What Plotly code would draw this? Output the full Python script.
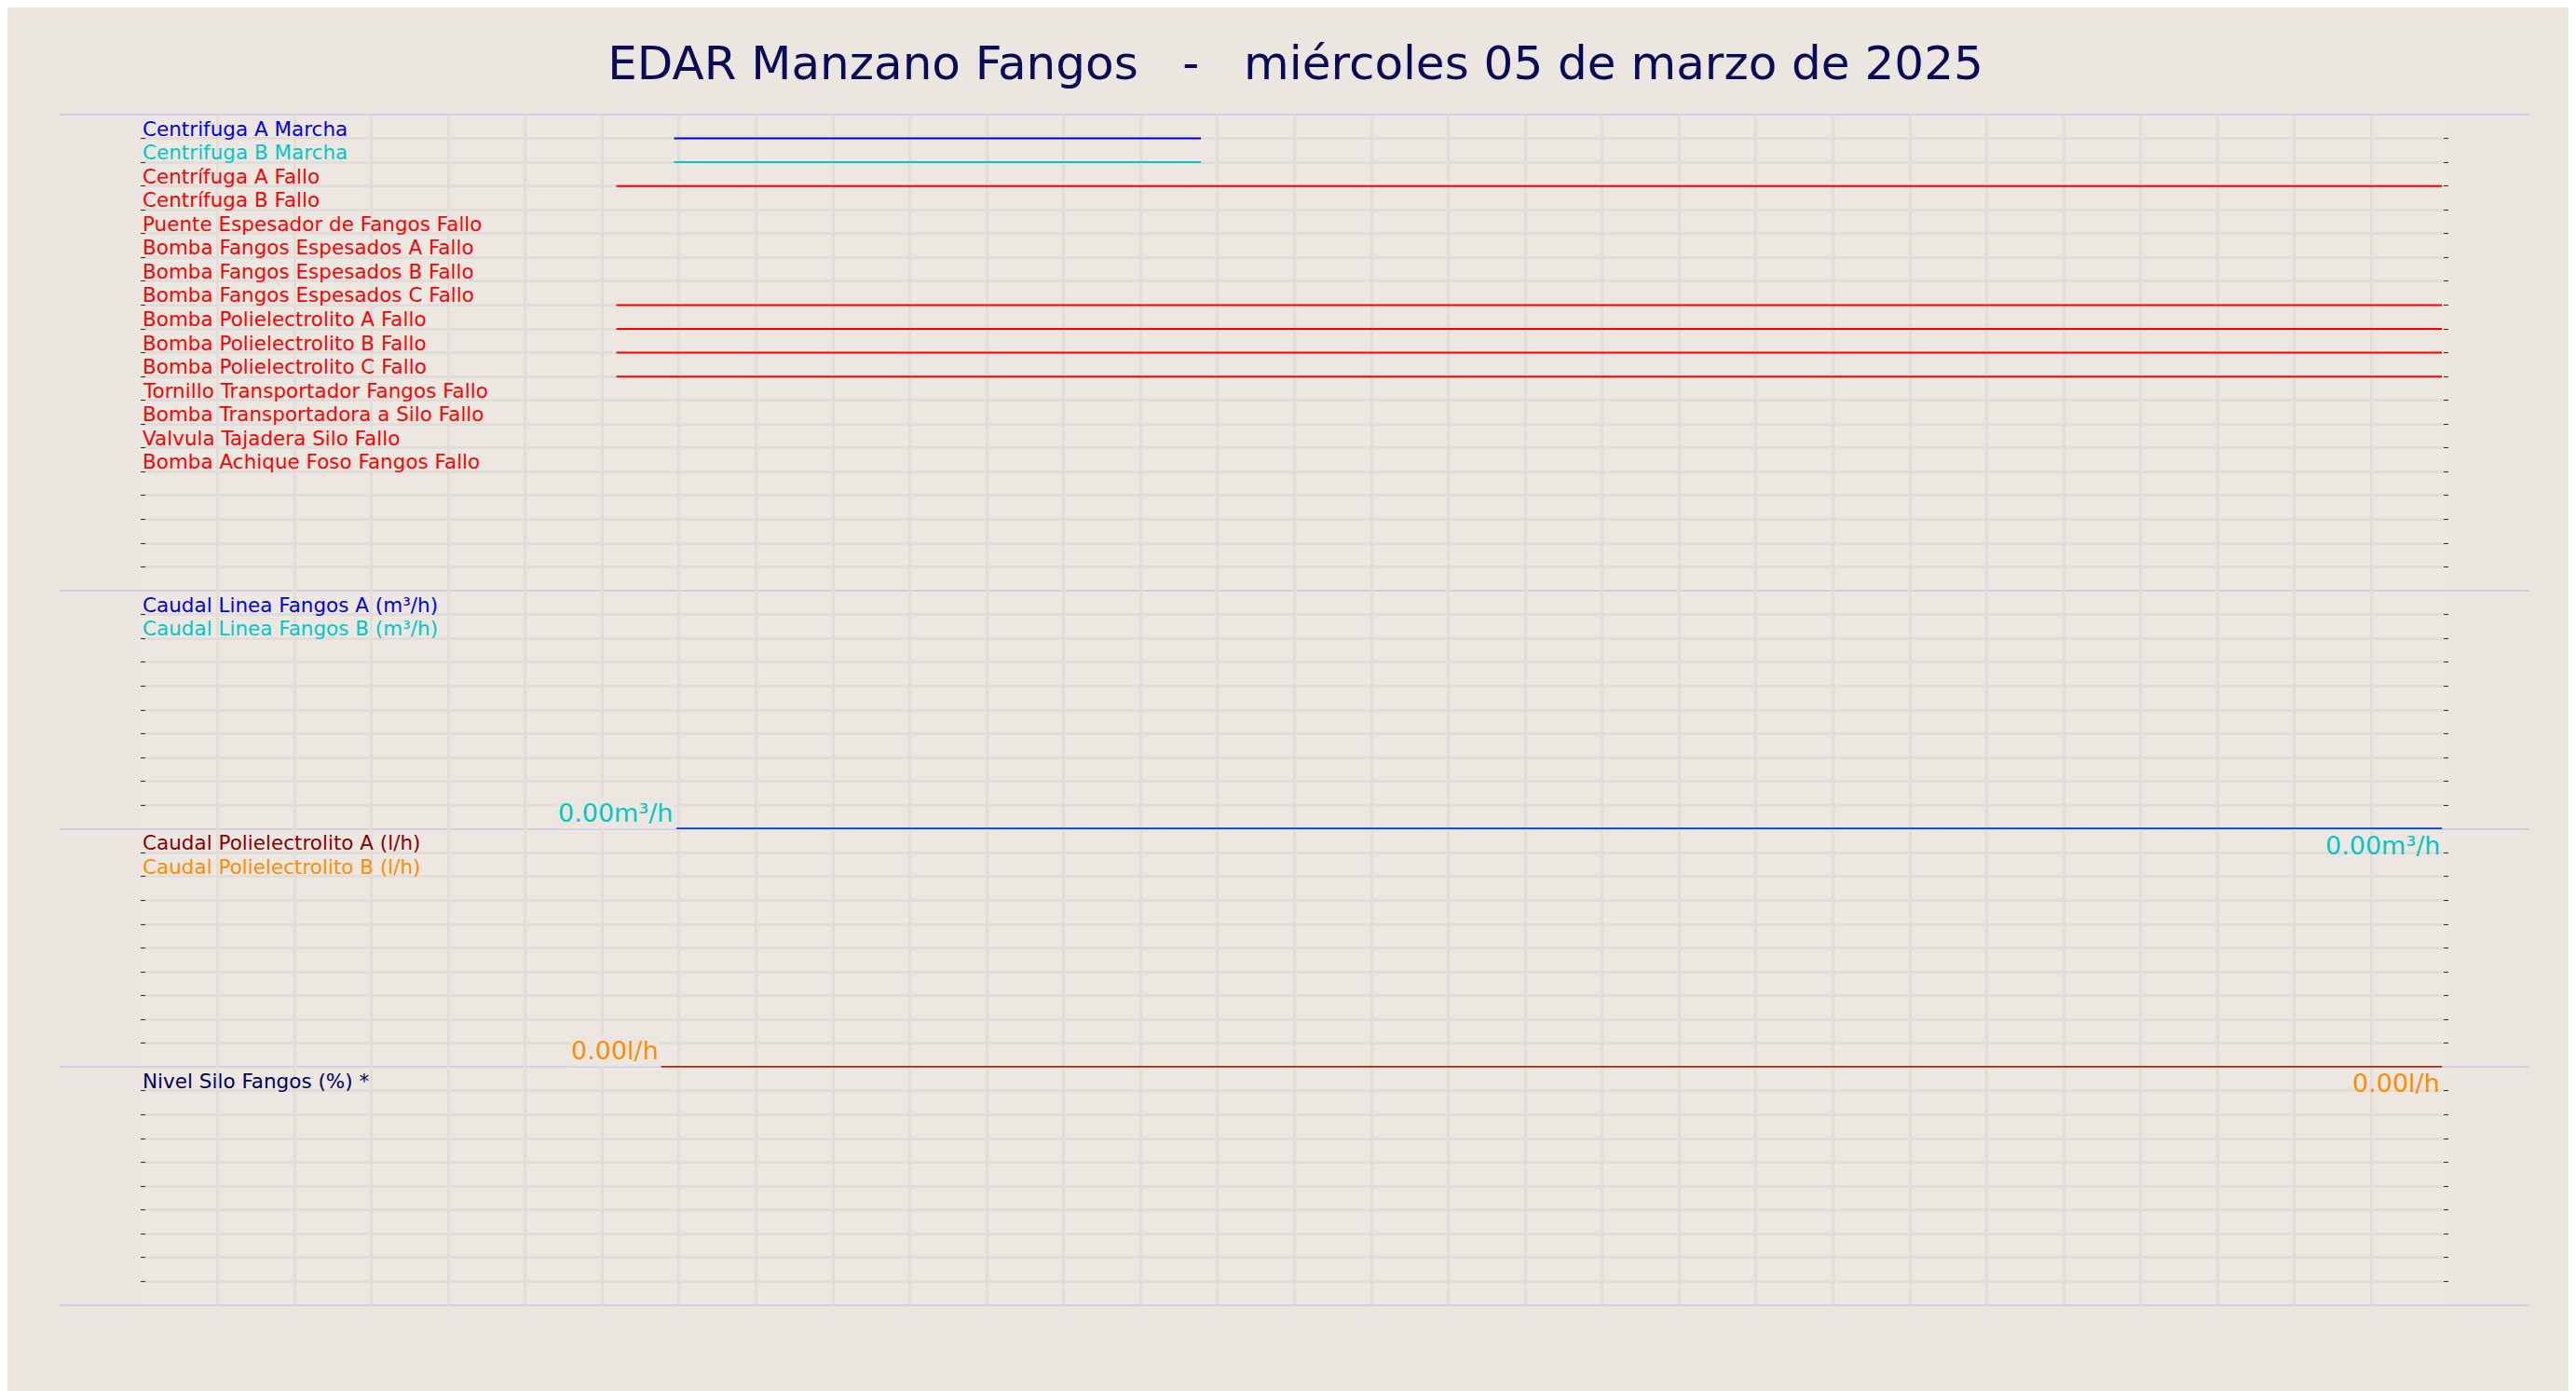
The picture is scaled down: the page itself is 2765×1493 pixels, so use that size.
import plotly.graph_objects as go
from plotly.subplots import make_subplots
import pandas as pd

W, H = 2765, 1493
BG = "#ebe6e0"

# panel 1: digital signals (name, colour, on-start, on-end)
senales = ["Centrifuga A Marcha", "Centrifuga B Marcha", "Centrífuga A Fallo", "Centrífuga B Fallo",
           "Puente Espesador de Fangos Fallo", "Bomba Fangos Espesados A Fallo",
           "Bomba Fangos Espesados B Fallo", "Bomba Fangos Espesados C Fallo",
           "Bomba Polielectrolito A Fallo", "Bomba Polielectrolito B Fallo",
           "Bomba Polielectrolito C Fallo", "Tornillo Transportador Fangos Fallo",
           "Bomba Transportadora a Silo Fallo", "Valvula Tajadera Silo Fallo",
           "Bomba Achique Foso Fangos Fallo"]
colores = ["#0000ee", "#00c8c8"] + ["#ff0000"] * 13
inicio = ["2025-03-05 06:56", "2025-03-05 06:56", "2025-03-05 06:11", None, None, None, None,
          "2025-03-05 06:11", "2025-03-05 06:11", "2025-03-05 06:11", "2025-03-05 06:11",
          None, None, None, None]
fin = ["2025-03-05 13:47", "2025-03-05 13:47", "2025-03-06 05:55", None, None, None, None,
       "2025-03-06 05:55", "2025-03-06 05:55", "2025-03-06 05:55", "2025-03-06 05:55",
       None, None, None, None]

# analog panels
caudal_fangos = ["Caudal Linea Fangos A (m³/h)", "Caudal Linea Fangos B (m³/h)"]
caudal_fangos_col = ["#0000ee", "#00c8c8"]
caudal_fangos_t = ["2025-03-05 06:58", "2025-03-06 05:55"]
caudal_fangos_v = [0.0, 0.0]

caudal_poli = ["Caudal Polielectrolito A (l/h)", "Caudal Polielectrolito B (l/h)"]
caudal_poli_col = ["#8b0000", "#ff8c00"]
caudal_poli_t = ["2025-03-05 06:46", "2025-03-06 05:55"]
caudal_poli_v = [0.0, 0.0]

nivel = ["Nivel Silo Fangos (%) *"]
nivel_col = ["#000066"]

horas = pd.date_range("2025-03-05 06:00", "2025-03-06 06:00", freq="h")
horas_val = [h.strftime("%Y-%m-%d %H:%M") for h in horas]
horas_txt = [h.strftime("%H") for h in horas]
x0, x1 = "2025-03-05 00:00", "2025-03-06 06:00"

fig = make_subplots(rows=4, cols=1, shared_xaxes=True, vertical_spacing=0,
                    row_heights=[20, 10, 10, 10])

LBL = 21.5
for i, (n, c, a, b) in enumerate(zip(senales, colores, inicio, fin)):
    if a:
        fig.add_trace(go.Scatter(x=[a, b], y=[i + 1, i + 1], mode="lines",
                                 line=dict(color=c, width=2), showlegend=False), row=1, col=1)
    fig.add_annotation(x=x0, y=i + 1, xref="x", yref="y", text=n, showarrow=False,
                       xanchor="left", yanchor="bottom", yshift=-4, font=dict(color=c, size=LBL))

def panel(row, nombres, cols, t, v, unidad, ltxt):
    yr = f"y{row}"
    for i, (n, c) in enumerate(zip(nombres, cols)):
        fig.add_annotation(x=x0, y=10 - i - 1, xref="x", yref=yr, text=n, showarrow=False,
                           xanchor="left", yanchor="bottom", yshift=-4, font=dict(color=c, size=LBL))
    if t:
        for c in cols[::-1]:
            fig.add_trace(go.Scatter(x=t, y=[x * 10 for x in v], mode="lines", cliponaxis=False,
                                     line=dict(color=c, width=2.5), showlegend=False), row=row, col=1)
        fig.add_annotation(x="2025-03-05 06:10", y=0, xref="x", yref=yr, text=f"{v[0]:.2f}{unidad}",
                           showarrow=False, yanchor="bottom", bgcolor=BG, font=dict(color=ltxt, size=27))
        fig.add_annotation(x=t[-1], y=0, xref="x", yref=yr, text=f"{v[-1]:.2f}{unidad}",
                           showarrow=False, yanchor="top", xanchor="right", font=dict(color=ltxt, size=27))

# panel separators and cursor (drawn below traces)
for yp in [115, 626, 882, 1137, 1393]:
    fig.add_shape(type="line", xref="paper", yref="paper", x0=-0.035, x1=1.035, layer="below",
                  y0=1 - (yp - 115) / 1278, y1=1 - (yp - 115) / 1278,
                  line=dict(color="#c4c4f0", width=1.5))
fig.add_shape(type="line", xref="x", yref="paper", x0="2025-03-05 06:00", x1="2025-03-05 06:00",
              y0=0, y1=1, layer="below", line=dict(color="#c4c4f0", width=1.5))

panel(2, caudal_fangos, caudal_fangos_col, caudal_fangos_t, caudal_fangos_v, "m³/h", "#00c8c8")
panel(3, caudal_poli, caudal_poli_col, caudal_poli_t, caudal_poli_v, "l/h", "#ff8c00")
panel(4, nivel, nivel_col, None, None, "", None)

fig.update_yaxes(range=[20, 0], row=1, col=1)
for r in (2, 3, 4):
    fig.update_yaxes(range=[0, 10], row=r, col=1)
fig.update_yaxes(dtick=1, showticklabels=False, showgrid=True, gridcolor="#e2ddd9", gridwidth=3,
                 zeroline=False, ticks="inside", ticklen=5, tickcolor="#333", mirror="ticks",
                 showline=False)

fig.update_xaxes(type="date", range=[x0, x1], tickmode="array", tickvals=horas_val, ticktext=horas_txt,
                 showgrid=True, gridcolor="#e2ddd9", gridwidth=3, zeroline=False,
                 minor=dict(dtick=3600000, showgrid=True, gridcolor="#e2ddd9", gridwidth=3))
fig.update_xaxes(showticklabels=True, tickfont=dict(size=25, color="#111"), row=4, col=1)

fig.update_layout(
    width=W, height=H, paper_bgcolor=BG, plot_bgcolor="#ece7e1",
    margin=dict(l=143, r=145, t=115, b=100),
    font=dict(family="DejaVu Sans"),
    title=dict(text="EDAR Manzano Fangos   -   miércoles 05 de marzo de 2025", x=0.5, y=0.96,
               xanchor="center", yanchor="middle", font=dict(size=50, color="#0a0a5a")),
)

fig.write_html("out.html")
